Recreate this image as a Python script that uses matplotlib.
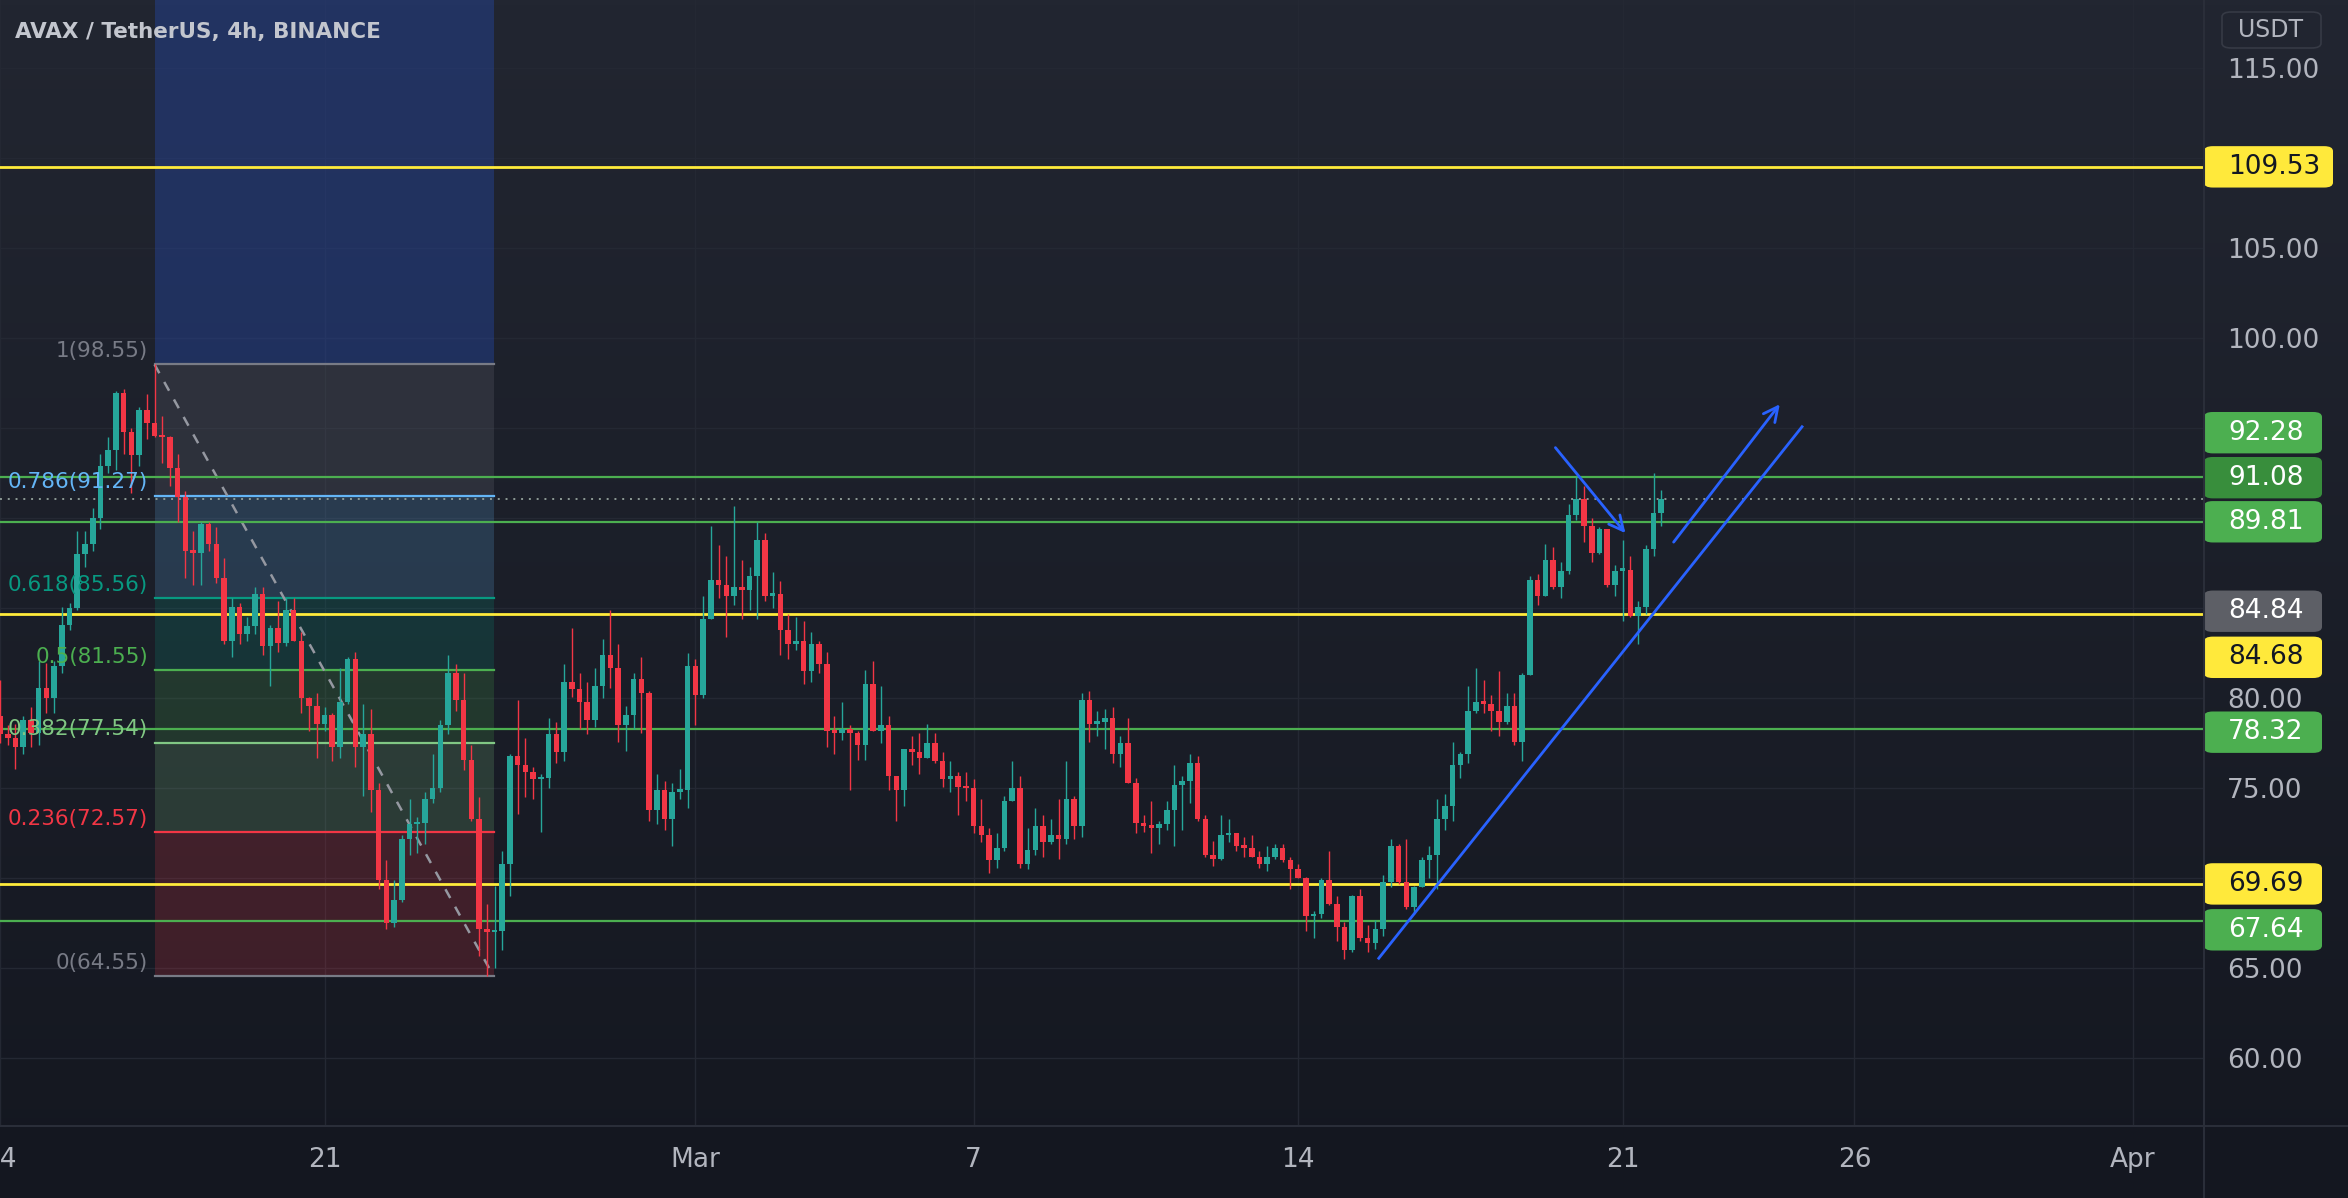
"""AVAX / TetherUS 4h chart with fib retracement, levels and trend lines."""

import matplotlib.pyplot as plt
import numpy as np
from matplotlib.colors import LinearSegmentedColormap
from matplotlib.lines import Line2D
from matplotlib.patches import FancyBboxPatch, Rectangle
from matplotlib.transforms import blended_transform_factory

# 4h candles starting Feb 14 00:00 (6 bars per day)
closes = [
    78.0, 77.8, 77.3, 78.8, 78.1, 80.6, 80.0, 81.8, 84.1, 85.0, 88.0, 88.6,
    90.0, 92.9, 93.8, 96.95, 94.8, 93.5, 96.0, 95.3, 94.6, 94.5, 92.8, 91.2,
    88.2, 88.1, 89.7, 88.6, 86.7, 83.2, 85.1, 83.6, 84.0, 85.8, 82.9, 83.9,
    83.1, 84.9, 83.2, 80.0, 79.6, 78.6, 79.1, 77.3, 79.8, 82.2, 77.3, 78.0,
    74.9, 69.9, 67.5, 68.8, 72.2, 73.0, 73.1, 74.4, 75.0, 78.5, 81.4, 79.9,
    76.6, 73.3, 67.2, 67.0, 67.1, 70.8, 76.8, 76.3, 75.9, 75.5, 75.6, 78.0,
    77.0, 80.9, 80.5, 79.8, 78.8, 80.7, 82.4, 81.7, 78.5, 79.1, 81.1, 80.3,
    73.8, 74.9, 73.3, 74.8, 74.9, 81.8, 80.2, 84.4, 86.6, 86.3, 85.7, 86.2,
    86.0, 86.8, 88.8, 85.7, 85.8, 83.8, 83.0, 83.2, 81.5, 83.0, 81.9, 78.2,
    78.1, 78.3, 78.1, 77.4, 80.8, 78.2, 78.5, 75.7, 74.9, 77.2, 77.0, 76.7,
    77.5, 76.5, 75.5, 75.7, 75.1, 75.0, 72.9, 72.4, 71.0, 71.7, 74.3, 75.0,
    70.8, 71.6, 72.9, 72.0, 72.4, 72.2, 74.4, 72.9, 79.9, 78.6, 78.7, 78.9,
    76.9, 77.5, 75.3, 73.1, 72.9, 72.8, 73.0, 73.8, 75.2, 75.4, 76.4, 73.3,
    71.3, 71.1, 72.4, 72.5, 71.8, 71.7, 71.2, 70.8, 71.2, 71.7, 71.0, 70.5,
    70.0, 67.9, 68.0, 69.9, 68.6, 67.3, 66.0, 69.0, 66.7, 66.4, 67.2, 69.8,
    71.8, 69.8, 68.4, 69.5, 71.0, 71.3, 73.3, 74.0, 76.3, 76.9, 79.3, 79.8,
    79.7, 79.3, 78.7, 79.6, 77.6, 81.3, 86.6, 85.7, 87.7, 86.2, 87.1, 90.2,
    91.1, 89.6, 88.1, 89.4, 86.3, 87.1, 87.15, 84.6, 85.1, 88.3, 90.3, 91.08,
]
highs = [
    81.0, 78.5, 78.6, 79.0, 79.5, 82.1, 81.95, 82.1, 85.1, 85.3, 89.3, 89.3,
    90.6, 93.6, 94.5, 97.1, 97.2, 95.0, 96.2, 96.9, 98.55, 95.7, 94.6, 93.6,
    91.5, 89.3, 89.8, 89.8, 89.5, 87.8, 85.6, 85.3, 84.5, 86.2, 86.2, 84.1,
    85.4, 85.6, 85.6, 83.7, 80.1, 80.3, 79.5, 79.2, 81.7, 82.3, 82.6, 79.7,
    79.4, 75.3, 71.0, 69.9, 72.4, 74.4, 73.4, 74.8, 76.9, 78.8, 82.4, 81.9,
    81.4, 77.4, 74.5, 68.6, 69.6, 71.5, 76.9, 79.9, 77.8, 76.2, 75.8, 78.9,
    78.7, 81.9, 83.9, 81.4, 80.9, 81.7, 83.3, 84.9, 83.0, 79.6, 81.4, 82.3,
    80.4, 75.8, 75.4, 75.3, 76.1, 82.5, 82.2, 85.7, 89.6, 88.5, 87.9, 90.7,
    87.7, 87.3, 89.8, 89.2, 87.0, 86.5, 84.7, 84.5, 84.3, 83.7, 83.2, 82.6,
    79.0, 79.8, 78.5, 78.2, 81.6, 82.1, 80.7, 79.0, 75.7, 77.2, 77.9, 78.1,
    78.6, 78.1, 77.0, 76.5, 75.9, 75.9, 75.5, 74.4, 72.8, 72.5, 74.6, 76.5,
    75.7, 72.8, 73.9, 73.5, 73.3, 74.4, 76.5, 74.6, 80.3, 80.4, 79.3, 79.4,
    79.5, 77.9, 78.9, 75.6, 73.5, 74.3, 73.2, 74.3, 76.3, 75.7, 76.9, 76.8,
    73.5, 72.1, 73.5, 73.3, 72.5, 72.3, 72.4, 71.5, 71.8, 71.9, 71.9, 71.2,
    70.8, 70.1, 68.2, 70.0, 71.5, 69.0, 67.6, 69.1, 69.4, 67.4, 67.7, 70.2,
    72.2, 71.9, 72.2, 69.6, 71.2, 71.8, 74.4, 74.7, 77.6, 77.0, 80.7, 81.7,
    81.0, 80.2, 81.5, 80.3, 80.3, 81.4, 86.8, 86.9, 88.6, 88.4, 87.6, 90.8,
    92.3, 91.8, 90.0, 89.5, 89.4, 87.4, 88.8, 87.9, 85.4, 88.5, 92.5, 91.6,
]
lows = [
    77.5, 77.4, 76.1, 76.9, 77.3, 77.4, 79.2, 79.2, 81.4, 83.8, 84.9, 87.3,
    88.2, 89.4, 92.5, 92.7, 93.6, 91.4, 92.9, 94.4, 94.5, 93.1, 91.8, 89.8,
    86.7, 86.3, 86.3, 88.2, 86.4, 83.0, 82.3, 83.0, 83.2, 83.6, 82.4, 80.7,
    82.6, 82.9, 83.2, 79.2, 78.2, 76.7, 78.2, 76.5, 76.7, 79.7, 76.2, 74.6,
    73.7, 69.4, 67.2, 67.3, 68.7, 71.3, 71.4, 71.9, 74.2, 74.8, 78.0, 79.3,
    76.0, 73.2, 65.7, 64.55, 65.0, 66.0, 69.0, 73.6, 74.5, 74.4, 72.6, 75.0,
    76.4, 76.5, 80.1, 78.3, 78.0, 78.4, 80.0, 80.6, 77.6, 77.1, 78.3, 78.1,
    73.2, 73.0, 72.7, 71.8, 74.4, 73.9, 78.5, 80.0, 84.4, 85.6, 83.4, 85.2,
    84.4, 84.9, 84.4, 85.4, 85.0, 82.4, 82.2, 82.7, 80.8, 80.9, 81.4, 77.3,
    76.9, 77.7, 74.9, 76.6, 76.6, 78.2, 77.5, 74.9, 73.2, 74.0, 76.3, 75.8,
    76.7, 76.4, 75.1, 74.8, 73.5, 74.3, 72.5, 72.0, 70.3, 70.6, 71.5, 74.3,
    70.6, 70.5, 71.3, 71.2, 71.9, 71.1, 71.9, 72.2, 72.3, 77.6, 77.9, 77.2,
    76.4, 76.2, 75.3, 72.5, 72.6, 71.4, 71.9, 72.7, 71.8, 72.7, 74.2, 73.2,
    71.2, 70.7, 71.0, 72.0, 71.5, 71.2, 71.2, 70.6, 70.4, 71.1, 70.9, 69.4,
    70.0, 67.1, 66.7, 67.8, 68.5, 66.5, 65.5, 65.9, 66.5, 65.9, 66.1, 66.8,
    69.5, 69.7, 68.3, 68.0, 69.5, 70.0, 69.4, 72.7, 73.2, 75.6, 76.4, 79.2,
    79.2, 78.2, 77.9, 78.6, 77.4, 76.5, 81.3, 85.2, 85.7, 86.1, 85.6, 86.9,
    89.9, 88.7, 87.6, 88.0, 86.2, 85.7, 84.3, 84.5, 83.0, 84.7, 87.9, 89.6,
]
first_open = 79.0
BARS_PER_DAY = 6

# fib retracement, anchored on bars 20 (high) and ~64 (low)
fib_levels = ["1", "0.786", "0.618", "0.5", "0.382", "0.236", "0"]
fib_prices = [98.55, 91.27, 85.56, 81.55, 77.54, 72.57, 64.55]
fib_colors = ["#787b86", "#64b5f6", "#089981", "#4caf50", "#81c784", "#f23645", "#787b86"]
fib_bars = (20, 63.9)

# horizontal levels
yellow_levels = [109.53, 84.68, 69.69]
green_levels = [92.28, 89.81, 78.32, 67.64]
last_price = 91.08

# right-axis price tags: text, price, box colour, text colour, nudge (price units)
tag_texts = ["109.53", "92.28", "91.08", "89.81", "84.84", "84.68", "78.32", "69.69", "67.64"]
tag_prices = [109.53, 92.28, 91.08, 89.81, 84.84, 84.68, 78.32, 69.69, 67.64]
tag_fill = ["#ffe93b", "#4caf50", "#388e3c", "#4caf50", "#5d5f66",
            "#ffe93b", "#4caf50", "#ffe93b", "#4caf50"]
tag_text_color = ["#131722", "white", "white", "white", "white",
                  "#131722", "white", "#131722", "white"]
tag_nudge = [0.0, 2.48, 1.18, 0.0, 0.0, -2.4, -0.2, 0.0, -0.5]

# trend lines in (day, price)
trend_long = ((29.74, 65.56), (38.87, 95.09))
arrow_up = ((36.1, 88.68), (38.39, 96.34))
arrow_down = ((33.55, 93.93), (35.06, 89.18))

# time axis
date_ticks = [0, 7, 15, 21, 28, 35, 40, 46]
date_labels = ["14", "21", "Mar", "7", "14", "21", "26", "Apr"]
price_ticks = np.arange(60, 116, 5)
# axis labels hidden behind price tags in the original
hidden_ticks = {70, 85, 90, 95, 110}

UP = "#26a69a"
DOWN = "#f23645"
TXT = "#b2b5be"
GRID = "#242833"
BLUE = "#2962ff"

W, H = 2348, 1198
fig = plt.figure(figsize=(W / 100, H / 100), dpi=100)

# background gradient
bg = fig.add_axes([0, 0, 1, 1], zorder=-10)
cmap = LinearSegmentedColormap.from_list("bg", ["#222631", "#141720"])
bg.imshow(np.linspace(0, 1, 256).reshape(-1, 1), aspect="auto", cmap=cmap,
          extent=[0, 1, 0, 1])
bg.axis("off")

axis_h = 72
plot_w = 2204
ax = fig.add_axes([0, axis_h / H, plot_w / W, (H - axis_h) / H])
ax.set_facecolor("none")
for s in ax.spines.values():
    s.set_visible(False)

ymin, ymax = 56.24, 118.8
xmin, xmax = 0.0646, 47.54
ax.set_ylim(ymin, ymax)
ax.set_xlim(xmin, xmax)

# grid
for p in price_ticks:
    ax.axhline(p, color=GRID, lw=1, zorder=0.4)
for d in date_ticks:
    ax.axvline(d, color=GRID, lw=1, zorder=0.4)

# fib drawing
fx0, fx1 = fib_bars[0] / BARS_PER_DAY, fib_bars[1] / BARS_PER_DAY
ax.add_patch(Rectangle((fx0, fib_prices[0]), fx1 - fx0, ymax - fib_prices[0],
                       facecolor=BLUE, alpha=0.24, lw=0, zorder=0.5))
for k in range(len(fib_prices) - 1):
    top, bot = fib_prices[k], fib_prices[k + 1]
    ax.add_patch(Rectangle((fx0, bot), fx1 - fx0, top - bot,
                           facecolor=fib_colors[k], alpha=0.19, lw=0, zorder=0.5))
for lvl, p, c in zip(fib_levels, fib_prices, fib_colors):
    ax.plot([fx0, fx1], [p, p], color=c, lw=1.6, zorder=1.1)
    ax.text(fx0 - 0.14, p + 0.75, f"{lvl}({p:.2f})", color=c, fontsize=15.5,
            ha="right", va="center", zorder=4)
ax.plot([fx0, fx1], [fib_prices[0], fib_prices[-1]], color="#9598a1", lw=1.8,
        ls=(0, (4, 4)), zorder=1.2)

# horizontal levels
for p in yellow_levels:
    ax.axhline(p, color="#ffeb3b", lw=2.0, zorder=1.3)
for p in green_levels:
    ax.axhline(p, color="#4caf50", lw=1.6, zorder=1.3)
ax.axhline(last_price, color="#8d9a95", lw=1.4, ls=(0, (1, 3)), zorder=1.3)

# candles
c = np.array(closes)
o = np.concatenate([[first_open], c[:-1]])
hi = np.array(highs)
lo = np.array(lows)
x = np.arange(len(c)) / BARS_PER_DAY
cols = np.where(c >= o, UP, DOWN)
ax.vlines(x, lo, hi, colors=cols, lw=1.0, zorder=2)
body = np.maximum(np.abs(c - o), 0.14)
ax.bar(x, body, bottom=np.minimum(o, c), width=0.72 / BARS_PER_DAY,
       color=cols, lw=0, zorder=2.1)

# trend lines
(x0, y0), (x1, y1) = trend_long
ax.plot([x0, x1], [y0, y1], color=BLUE, lw=2.0, zorder=3)
for start, end in (arrow_up, arrow_down):
    ax.annotate("", xy=end, xytext=start,
                arrowprops=dict(arrowstyle="->", color=BLUE, lw=2.0,
                                mutation_scale=26, shrinkA=0, shrinkB=0),
                zorder=3)

# axes ticks
ax.yaxis.tick_right()
ax.set_yticks(price_ticks)
ax.set_yticklabels(["" if p in hidden_ticks else f"{p:.2f}" for p in price_ticks])
ax.tick_params(axis="y", length=0, pad=16.5, labelsize=19, labelcolor=TXT)
ax.set_xticks(date_ticks)
ax.set_xticklabels(date_labels)
ax.tick_params(axis="x", length=0, pad=15, labelsize=19, labelcolor=TXT)

# price tags on the right axis
trans = blended_transform_factory(ax.transAxes, ax.transData)
box_h = 2.3
for t, p, fc, tc, dn in zip(tag_texts, tag_prices, tag_fill, tag_text_color, tag_nudge):
    yc = p + dn
    bw = (129 if t == "109.53" else 118) / plot_w
    ax.add_patch(FancyBboxPatch((1.0, yc - box_h / 2), bw, box_h,
                                boxstyle="round,pad=0,rounding_size=0.004",
                                transform=trans, facecolor=fc, lw=0,
                                clip_on=False, zorder=5, mutation_aspect=box_h * 30))
    ax.text(1.0 + 24 / plot_w, yc, t, transform=trans, color=tc, fontsize=19,
            ha="left", va="center", clip_on=False, zorder=6)

# separators
fig.add_artist(Line2D([plot_w / W, plot_w / W], [0, 1], color="#2a2e39", lw=1.5))
fig.add_artist(Line2D([0, 1], [axis_h / H, axis_h / H], color="#2a2e39", lw=1.5))

# USDT box
fig.add_artist(FancyBboxPatch((2222 / W, 1 - 48 / H), 99 / W, 36 / H,
                              boxstyle="round,pad=0,rounding_size=0.004",
                              facecolor="none", edgecolor="#363a45", lw=1.2,
                              transform=fig.transFigure))
fig.text(2271 / W, 1 - 30 / H, "USDT", color=TXT, fontsize=17, ha="center", va="center")

# title
fig.text(15 / W, 1 - 32 / H, "AVAX / TetherUS, 4h, BINANCE", color="#c3c6ce",
         fontsize=15.5, ha="left", va="center", fontweight="semibold")

fig.savefig("out.png", dpi=100)
